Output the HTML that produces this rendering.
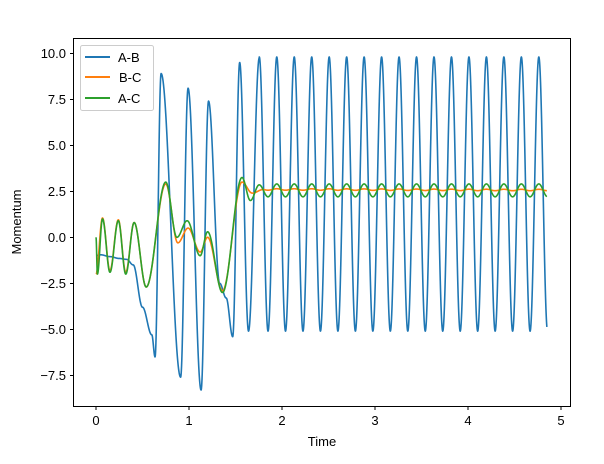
<!DOCTYPE html>
<html><head><meta charset="utf-8"><style>
body{margin:0;background:#fff}
svg text{font-family:"Liberation Sans","DejaVu Sans",sans-serif;font-size:13px;fill:#000}
</style></head><body>
<svg id="s" width="604" height="459" xmlns="http://www.w3.org/2000/svg">
<rect x="0" y="0" width="604" height="459" fill="#fff"/>
<g id="lines"></g>
<rect x="73.5" y="38.5" width="497" height="368" fill="none" stroke="#000" stroke-width="1"/>
<g stroke="#000" stroke-width="1">
<line x1="96" y1="406.5" x2="96" y2="410"/><line x1="189" y1="406.5" x2="189" y2="410"/>
<line x1="282" y1="406.5" x2="282" y2="410"/><line x1="375" y1="406.5" x2="375" y2="410"/>
<line x1="468" y1="406.5" x2="468" y2="410"/><line x1="561" y1="406.5" x2="561" y2="410"/>
<line x1="70" y1="53.5" x2="73.5" y2="53.5"/><line x1="70" y1="99.5" x2="73.5" y2="99.5"/>
<line x1="70" y1="145.5" x2="73.5" y2="145.5"/><line x1="70" y1="191.5" x2="73.5" y2="191.5"/>
<line x1="70" y1="237.5" x2="73.5" y2="237.5"/><line x1="70" y1="283.5" x2="73.5" y2="283.5"/>
<line x1="70" y1="329.5" x2="73.5" y2="329.5"/><line x1="70" y1="375.5" x2="73.5" y2="375.5"/>
</g>
<g text-anchor="middle">
<text x="96" y="425">0</text><text x="189" y="425">1</text><text x="282" y="425">2</text>
<text x="375" y="425">3</text><text x="468" y="425">4</text><text x="561" y="425">5</text>
<text x="322" y="446">Time</text>
</g>
<g text-anchor="end">
<text x="66" y="58">10.0</text><text x="66" y="104">7.5</text><text x="66" y="150">5.0</text>
<text x="66" y="196">2.5</text><text x="66" y="242">0.0</text><text x="66" y="288">−2.5</text>
<text x="66" y="334">−5.0</text><text x="66" y="380">−7.5</text>
</g>
<text x="21" y="222" text-anchor="middle" transform="rotate(-90 21 222)">Momentum</text>
<rect x="80.5" y="45.5" width="73" height="65" rx="2" fill="#fff" fill-opacity="0.8" stroke="#ccc"/>
<line x1="85" y1="57" x2="110" y2="57" stroke="#1f77b4" stroke-width="2"/>
<line x1="85" y1="77" x2="110" y2="77" stroke="#ff7f0e" stroke-width="2"/>
<line x1="85" y1="98" x2="110" y2="98" stroke="#2ca02c" stroke-width="2"/>
<text x="118" y="62">A-B</text><text x="119" y="82">B-C</text><text x="118" y="103">A-C</text>
</svg>
<script>
function X(t){return 96+93*t}
function Y(v){return 237.3-18.4*v}
function interp(k,t){
 for(let i=0;i<k.length-1;i++){
  if(t<=k[i+1][0]){const a=k[i],b=k[i+1];const u=(t-a[0])/(b[0]-a[0]);const w=(1-Math.cos(Math.PI*u))/2;return a[1]+(b[1]-a[1])*w;}
 }
 return k[k.length-1][1];
}
const P=17.47/93, tp=(259.3-96)/93;
const abK=[[0,-1],[0.05,-0.95],[0.15,-1.05],[0.25,-1.15],[0.33,-1.2],[0.4,-1.5],[0.5,-3.8],[0.6,-5.3],[0.635,-6.5],[0.7,8.9],[0.91,-7.6],[0.99,8.1],[1.13,-8.3],[1.21,7.4],[1.33,-2.5],[1.4,-3.3],[1.47,-5.4],[1.545,9.5],[1.64,-5.1],[tp,9.75]];
function ab(t){ if(t<=tp) return interp(abK,t); return 2.35+7.45*Math.cos(2*Math.PI*(t-tp)/P);}
const acK=[[0,0],[0.015,-2],[0.07,1.0],[0.15,-1.9],[0.24,0.9],[0.32,-2.0],[0.41,0.8],[0.54,-2.7],[0.75,3.0],[0.87,0.0],[0.98,0.9],[1.12,-1.0],[1.2,0.3],[1.36,-3.0],[1.57,3.25],[1.66,2.0],[1.755,2.85],[1.85,2.2],[tp,2.9]];
function ac(t){ if(t<1.85) return interp(acK,t); return 2.55+0.35*Math.cos(2*Math.PI*(t-tp)/P);}
const bcK=[[0,-2],[0.07,1.05],[0.15,-1.8],[0.24,0.95],[0.32,-1.9],[0.41,0.8],[0.54,-2.7],[0.75,2.9],[0.88,-0.3],[0.99,0.5],[1.12,-0.8],[1.2,0.0],[1.36,-2.9],[1.57,3.0],[1.68,2.4],[1.8,2.6],[4.85,2.57]];
function bc(t){return interp(bcK,t)+(t>1.8?0.04*Math.cos(2*Math.PI*(t-tp)/P):0);}
function path(f,c){let d='';for(let t=0;t<=4.848;t+=0.002){d+=(d?'L':'M')+X(t).toFixed(2)+' '+Y(f(t)).toFixed(2);}
 return '<path d="'+d+'" fill="none" stroke="'+c+'" stroke-width="1.6" stroke-linejoin="round"/>';}
document.getElementById('lines').innerHTML=path(ab,'#1f77b4')+path(bc,'#ff7f0e')+path(ac,'#2ca02c');
</script>
</body></html>
